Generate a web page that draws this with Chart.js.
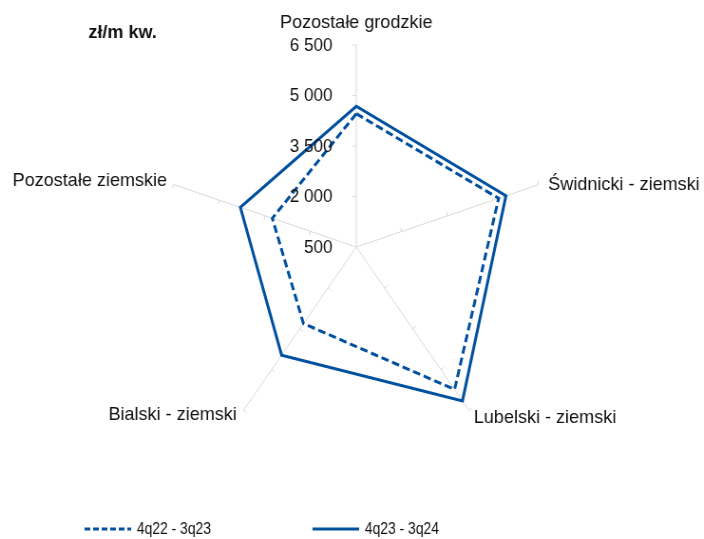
<!DOCTYPE html>
<html>
<head>
<meta charset="utf-8">
<script src="https://cdn.jsdelivr.net/npm/chart.js@4/dist/chart.umd.min.js"></script>
<style>
  html, body { margin: 0; padding: 0; background: #fff; overflow: hidden; }
  #wrap { width: 741px; height: 539px; transform: scaleX(0.95); transform-origin: 0 0; }
</style>
</head>
<body>
<div id="wrap"><canvas id="c"></canvas></div>
<script>
// Average price per square metre by district, two 4-quarter periods
const categories = ['Pozostałe grodzkie', 'Świdnicki - ziemski', 'Lubelski - ziemski', 'Bialski - ziemski', 'Pozostałe ziemskie'];
const seriesNames = ['4q22 - 3q23', '4q23 - 3q24'];
const values2223 = [4460, 5180, 5730, 3310, 3260];
const values2324 = [4680, 5420, 6150, 4470, 4310];
const tickValues = [500, 2000, 3500, 5000, 6500];
const unitLabel = 'zł/m kw.';

const BLUE = 'rgb(0,80,160)';
const GRID = '#d9d9d9';
const TEXT = '#111111';
const FONT = '"Liberation Sans", Arial, sans-serif';

const fmt = v => String(v).replace(/\B(?=(\d{3})+(?!\d))/g, ' ');

// label placement around the outer end of each spoke
const labelOffsets = [[0, -22], [10, 0], [5, 7], [-7, 4], [-7, -4]];

const decor = {
  id: 'decor',
  beforeDatasetsDraw(chart) {
    const s = chart.scales.r, ctx = chart.ctx;
    ctx.save();
    ctx.strokeStyle = GRID;
    ctx.lineWidth = 1;
    categories.forEach((_, i) => {
      tickValues.slice(1).forEach(v => {
        const p = s.getPointPositionForValue(i, v);
        const dx = Math.cos(p.angle), dy = Math.sin(p.angle);
        ctx.beginPath();
        ctx.moveTo(p.x, p.y);
        ctx.lineTo(p.x + dy * 4, p.y - dx * 4);
        ctx.stroke();
      });
    });
    ctx.restore();
  },
  afterDatasetsDraw(chart) {
    const s = chart.scales.r, ctx = chart.ctx;
    ctx.save();
    ctx.fillStyle = TEXT;
    // value axis labels on the first spoke
    ctx.font = '18px ' + FONT;
    ctx.textAlign = 'right';
    ctx.textBaseline = 'middle';
    tickValues.forEach(v => {
      const p = s.getPointPositionForValue(0, v);
      ctx.fillText(fmt(v), p.x - 25, p.y + 1);
    });
    // category labels
    ctx.font = '19px ' + FONT;
    categories.forEach((name, i) => {
      const p = s.getPointPosition(i, s.drawingArea);
      const c = Math.cos(p.angle);
      ctx.textAlign = Math.abs(c) < 0.1 ? 'center' : (c > 0 ? 'left' : 'right');
      ctx.fillText(name, p.x + labelOffsets[i][0], p.y + labelOffsets[i][1]);
    });
    // unit
    ctx.font = 'bold 19px ' + FONT;
    ctx.textAlign = 'left';
    ctx.fillText(unitLabel, 93, 33);
    // legend (condensed text)
    const items = [
      { name: seriesNames[0], x: 89, dash: [6, 3] },
      { name: seriesNames[1], x: 329, dash: [] }
    ];
    const ly = 529;
    items.forEach(it => {
      ctx.strokeStyle = BLUE;
      ctx.lineWidth = 3;
      ctx.setLineDash(it.dash);
      ctx.beginPath();
      ctx.moveTo(it.x, ly);
      ctx.lineTo(it.x + 49, ly);
      ctx.stroke();
      ctx.setLineDash([]);
      ctx.save();
      ctx.translate(it.x + 55, ly);
      ctx.scale(0.86, 1);
      ctx.font = '17px ' + FONT;
      ctx.textAlign = 'left';
      ctx.fillText(it.name, 0, 0);
      ctx.restore();
    });
    ctx.restore();
  }
};

new Chart(document.getElementById('c'), {
  type: 'radar',
  data: {
    labels: categories,
    datasets: [
      { label: seriesNames[0], data: values2223, borderColor: BLUE, borderWidth: 3, borderDash: [8, 4], borderJoinStyle: 'miter', fill: false, pointRadius: 0 },
      { label: seriesNames[1], data: values2324, borderColor: BLUE, borderWidth: 3, borderJoinStyle: 'miter', fill: false, pointRadius: 0 }
    ]
  },
  options: {
    responsive: true,
    maintainAspectRatio: false,
    animation: false,
    layout: { padding: { left: 170, right: 161, top: 45, bottom: 90 } },
    elements: { line: { tension: 0 } },
    plugins: { legend: { display: false }, tooltip: { enabled: false } },
    scales: {
      r: {
        min: 500,
        max: 6500,
        beginAtZero: false,
        ticks: { display: false, stepSize: 1500 },
        grid: { display: false },
        angleLines: { display: true, color: GRID, lineWidth: 1 },
        pointLabels: { display: false }
      }
    }
  },
  plugins: [decor]
});
</script>
</body>
</html>
